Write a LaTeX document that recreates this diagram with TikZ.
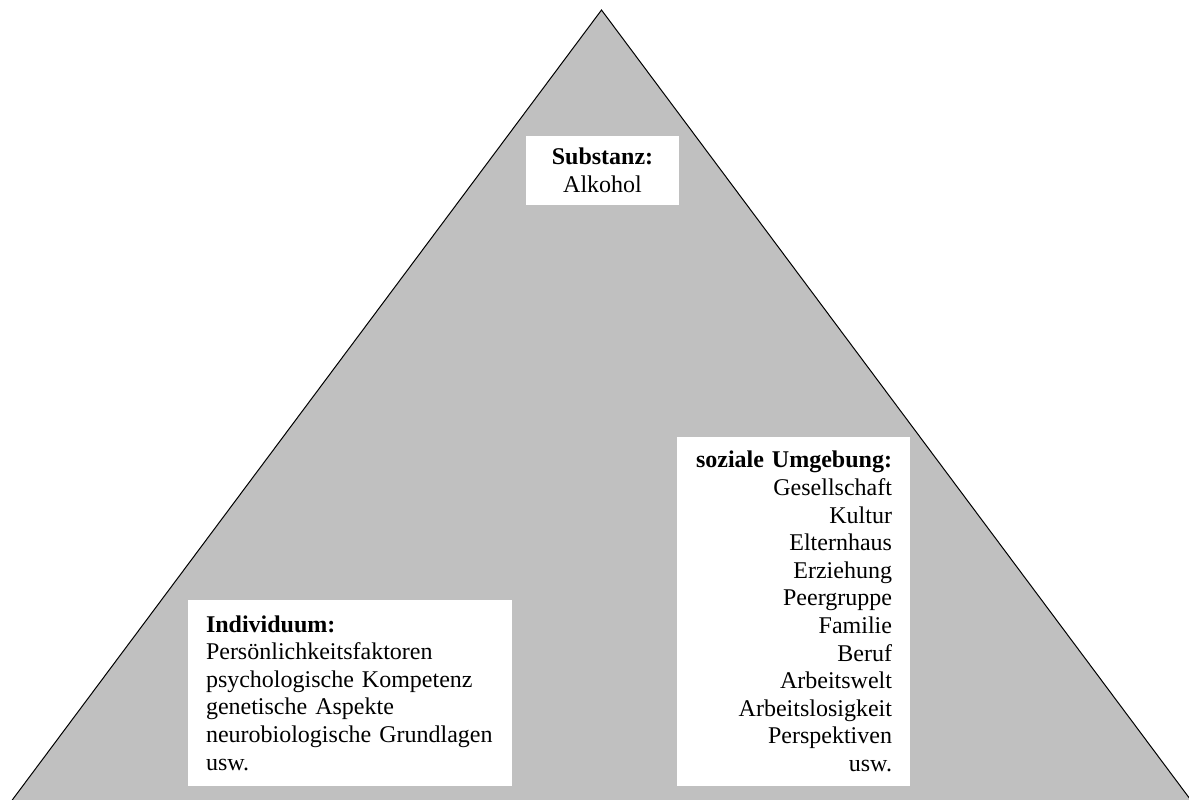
\documentclass[tikz,border=0pt]{standalone}
\usepackage{fontspec}
\setmainfont{Liberation Serif}
\usetikzlibrary{positioning}
\definecolor{pyrgray}{HTML}{C0C0C0}
\tikzset{
  pyramid/.style={draw=black, fill=pyrgray, line width=0.5pt, line join=miter},
  whitebox/.style={fill=white, inner xsep=9pt, inner ysep=0pt, font=\fontsize{12}{13.8}\selectfont},
}

\begin{document}
\begin{tikzpicture}[x=0.5pt, y=-0.5pt]
  \useasboundingbox (0,0) rectangle (1189,799);
  \coordinate (apex) at (601.5,10);
  \coordinate (baseL) at (11.5,801);
  \coordinate (baseR) at (1191.5,801);
  \draw[pyramid] (apex) -- (baseR) -- (baseL) -- cycle;

  \node[whitebox, minimum width=76.5pt, minimum height=34.5pt, align=center] (substanz) at (602.5,170.5)
    {\textbf{Substanz:}\\Alkohol};
  \node[whitebox, minimum width=116.5pt, minimum height=174.5pt, text width=98.5pt, align=right] (umgebung) at (793.5,611.5)
    {\textbf{soziale Umgebung:}\\Gesellschaft\\Kultur\\Elternhaus\\Erziehung\\Peergruppe\\Familie\\Beruf\\Arbeitswelt\\Arbeitslosigkeit\\Perspektiven\\usw.};
  \node[whitebox, minimum width=162pt, minimum height=93pt, text width=144pt, align=left] (individuum) at (350,693)
    {\textbf{Individuum:}\\Persönlichkeitsfaktoren\\psychologische Kompetenz\\genetische Aspekte\\neurobiologische Grundlagen\\usw.};
\end{tikzpicture}
\end{document}
